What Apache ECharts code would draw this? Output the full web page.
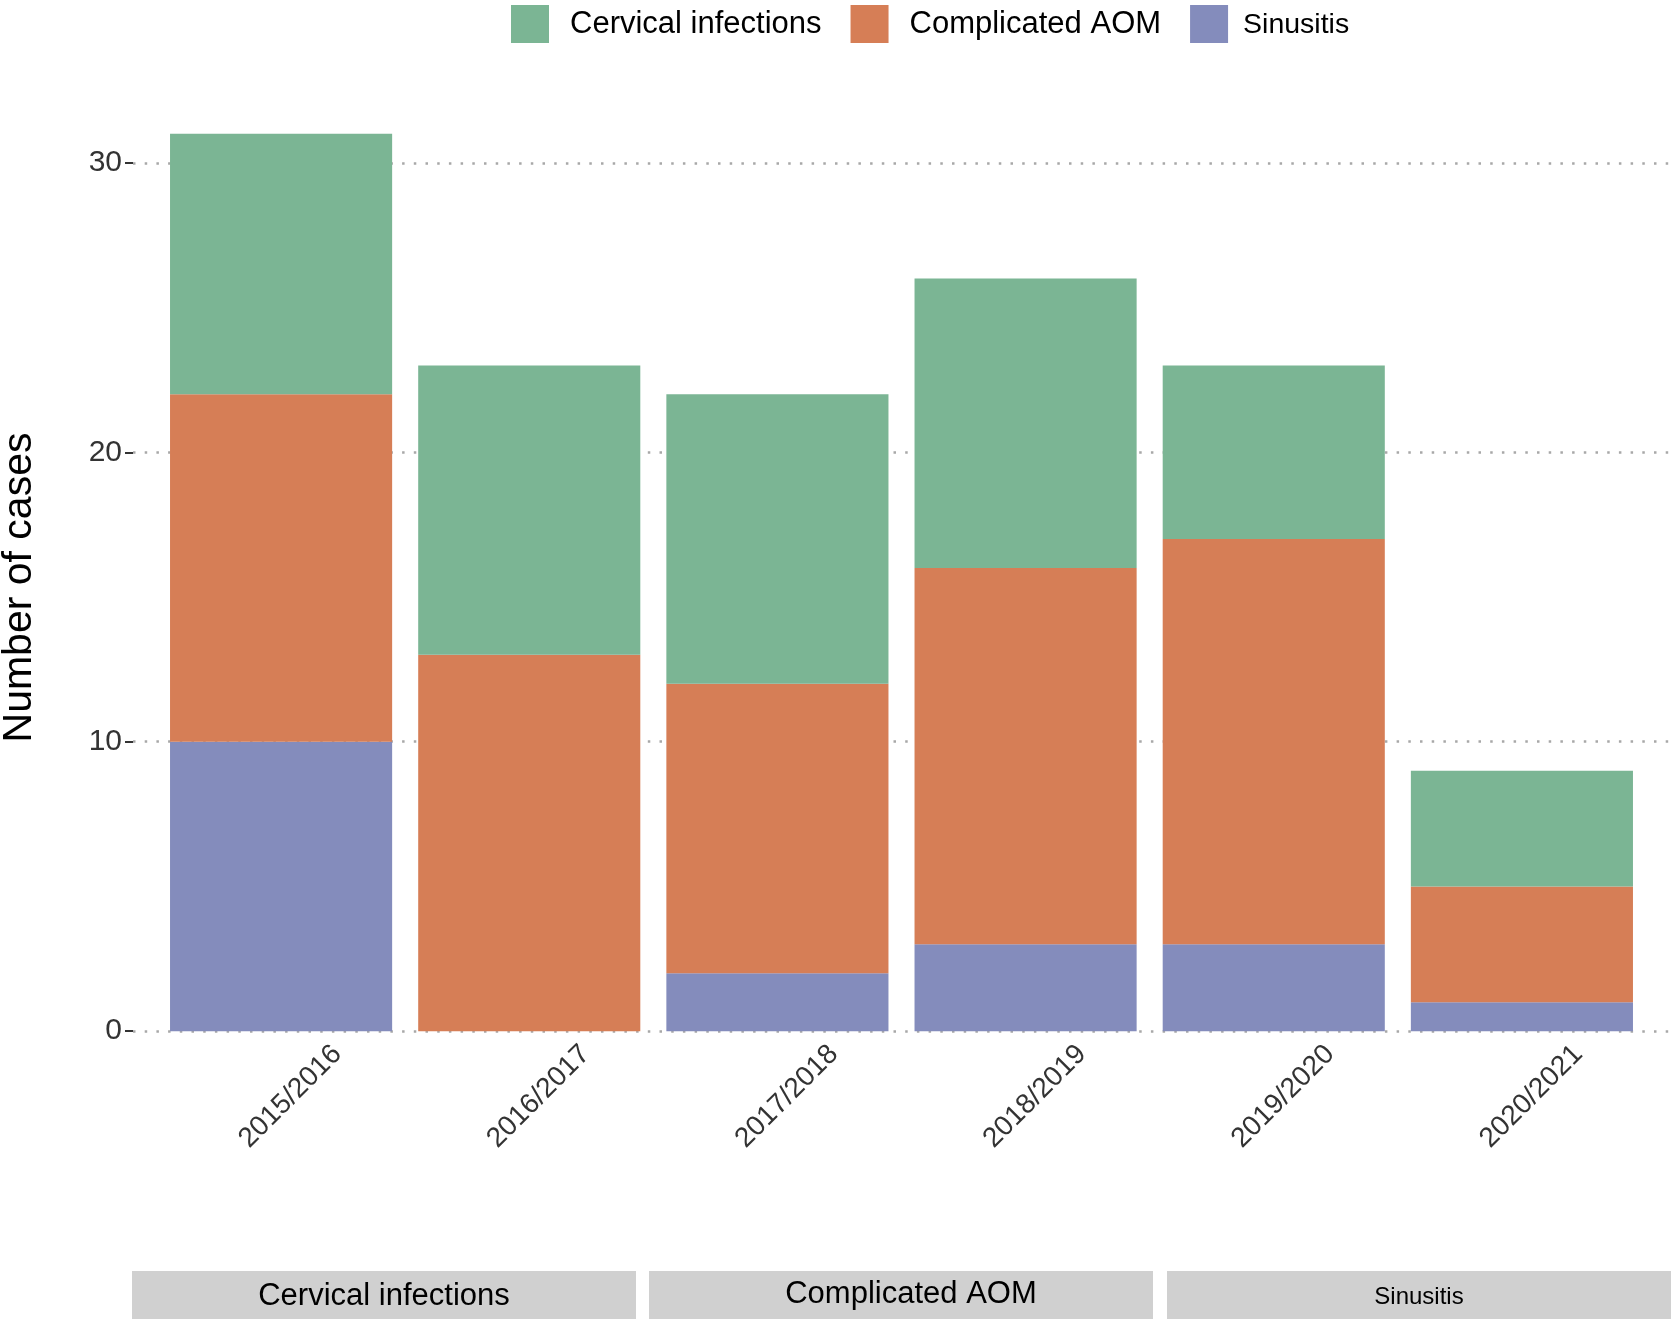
<!DOCTYPE html>
<html>
<head>
<meta charset="utf-8">
<script src="https://cdn.jsdelivr.net/npm/echarts@6/dist/echarts.min.js"></script>
<style>html,body{margin:0;padding:0;background:#fff}#c{width:1675px;height:1324px}</style>
</head>
<body>
<div id="c"></div>
<script>
const categories = ['2015/2016','2016/2017','2017/2018','2018/2019','2019/2020','2020/2021'];
const sinusitis = [10, 0, 2, 3, 3, 1];
const complicatedAOM = [12, 13, 10, 13, 14, 4];
const cervical = [9, 10, 10, 10, 6, 4];
const seriesNames = ['Cervical infections', 'Complicated AOM', 'Sinusitis'];
const stripLabels = ['Cervical infections', 'Complicated AOM', 'Sinusitis'];
const yTicks = [0, 10, 20, 30];

const colors = {'Cervical infections':'#7bb594','Complicated AOM':'#d67e56','Sinusitis':'#848cbc'};
const FONT = 'Liberation Sans, Arial, sans-serif';
const chart = echarts.init(document.getElementById('c'));

const yMin = -1.55, yMax = 32.55;
const stripBoxes = [[132,636],[649,1153],[1167,1671]];
const stripSizes = [31, 31, 24];
const stripY = [1296, 1294, 1297];
const stripDx = [0, 10, 0];

const graphics = [];
stripLabels.forEach((t,i)=>{
  const [x0,x1] = stripBoxes[i];
  graphics.push({type:'rect', shape:{x:x0, y:1271, width:x1-x0, height:48}, style:{fill:'#d0d0d0'}});
  graphics.push({type:'text', x:(x0+x1)/2 + stripDx[i], y:stripY[i], style:{text:t, fill:'#000', font: stripSizes[i]+'px '+FONT, textAlign:'center', textVerticalAlign:'middle'}});
});

chart.setOption({
  animation:false,
  textStyle:{fontFamily:FONT},
  legend:{
    data: seriesNames,
    left: 511, top: 5, padding: 0,
    itemWidth: 38, itemHeight: 38, itemGap: 29,
    icon:'rect',
    formatter: n => n === 'Sinusitis' ? '{s|' + n + '}' : '{n|' + n + '}',
    textStyle:{fontSize:31, color:'#000', fontFamily:FONT,
      rich:{
        n:{fontSize:31, color:'#000', fontFamily:FONT, padding:[0,0,0,16]},
        s:{fontSize:28.5, color:'#000', fontFamily:FONT, padding:[3,0,0,10]}
      }}
  },
  grid:[
    {left:157, right:29, top:89, bottom:248, outerBoundsMode:'none', containLabel:false},
    {left:133, right:4, top:89, bottom:248, outerBoundsMode:'none', containLabel:false}
  ],
  xAxis:[
    {type:'category', gridIndex:0, data:categories,
     axisLine:{show:false, onZero:false}, axisTick:{show:false},
     axisLabel:{rotate:45, align:'center', verticalAlign:'middle', margin:30, padding:[0,0,0,27], fontSize:28, color:'#333', fontFamily:FONT}},
    {type:'value', gridIndex:1, show:false, min:0, max:1}
  ],
  yAxis:[
    {type:'value', gridIndex:0, min:yMin, max:yMax, show:false, splitLine:{show:false}},
    {type:'value', gridIndex:1, min:yMin, max:yMax,
     interval:10,
     axisLine:{show:false},
     axisTick:{show:true, length:8, lineStyle:{color:'#333', width:2}, customValues: yTicks},
     axisLabel:{fontSize:30, color:'#333', margin:11, fontFamily:FONT, customValues: yTicks},
     splitLine:{show:true, lineStyle:{color:'#a8a8a8', width:2.5, type:[2.5,9.2]}},
     name:'Number of cases', nameLocation:'middle', nameRotate:90, nameGap:93, nameMoveOverlap:false,
     nameTextStyle:{fontSize:41, color:'#000', fontFamily:FONT, padding:[0,10,0,0]}}
  ],
  series:[
    {name:'Sinusitis', type:'bar', stack:'a', data:sinusitis, barWidth:'89.5%', itemStyle:{color:colors['Sinusitis']}, xAxisIndex:0, yAxisIndex:0},
    {name:'Complicated AOM', type:'bar', stack:'a', data:complicatedAOM, barWidth:'89.5%', itemStyle:{color:colors['Complicated AOM']}, xAxisIndex:0, yAxisIndex:0},
    {name:'Cervical infections', type:'bar', stack:'a', data:cervical, barWidth:'89.5%', itemStyle:{color:colors['Cervical infections']}, xAxisIndex:0, yAxisIndex:0}
  ],
  graphic: graphics
});
</script>
</body>
</html>
